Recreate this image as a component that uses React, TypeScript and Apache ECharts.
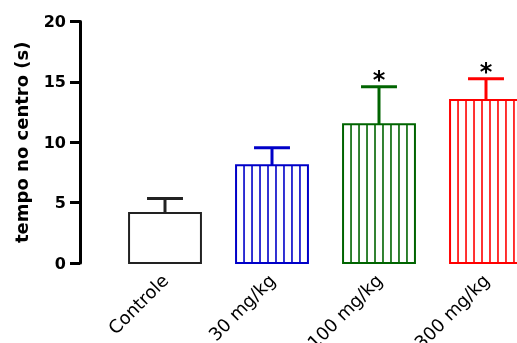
import React, { useEffect, useRef } from 'react';
import * as echarts from 'echarts';

const categories = ['Controle', '30 mg/kg', '100 mg/kg', '300 mg/kg'];
const means = [4.15, 8.1, 11.5, 13.5];
const sems = [1.2, 1.45, 3.1, 1.75];
const significant = [false, false, true, true];
const yTicks = [0, 5, 10, 15, 20];
const yTitle = 'tempo no centro (s)';

const strokeColors = ['#222222', '#0000c8', '#006400', '#ff0000'];
const striped = [false, true, true, true];
const FONT = 'DejaVu Sans';

export default function App() {
  const ref = useRef<HTMLDivElement>(null);
  useEffect(() => {
    const chart = echarts.init(ref.current!, null, { renderer: 'svg' });
    const data = categories.map((_, i) => [i, means[i], means[i] + sems[i], significant[i] ? 1 : 0]);
    chart.setOption({
      animation: false,
      grid: { left: 111.5, right: -22.5, top: 21.5, bottom: 80, containLabel: false, outerBoundsMode: 'none' },
      xAxis: {
        type: 'category',
        data: categories,
        axisLine: { show: false },
        axisTick: { show: false },
        axisLabel: { interval: 0, rotate: 45, margin: 14, fontSize: 18, fontFamily: FONT, color: '#000' },
        splitLine: { show: false },
      },
      yAxis: {
        type: 'value',
        min: yTicks[0],
        max: yTicks[yTicks.length - 1],
        interval: yTicks[1] - yTicks[0],
        offset: 31.5,
        name: yTitle,
        nameLocation: 'middle',
        nameGap: 50,
        nameTextStyle: { fontSize: 18, fontWeight: 'bold', fontFamily: FONT, color: '#000' },
        axisLine: { show: true, lineStyle: { color: '#000', width: 3 } },
        axisTick: { show: true, length: 10, lineStyle: { color: '#000', width: 3 } },
        axisLabel: { fontSize: 16, fontWeight: 'bold', fontFamily: FONT, color: '#000', margin: 14 },
        splitLine: { show: false },
      },
      series: [
        {
          type: 'custom',
          data,
          clip: false,
          renderItem: (params: any, api: any) => {
            const idx = api.value(0);
            const base = api.coord([idx, 0]);
            const top = api.coord([idx, api.value(1)]);
            const err = api.coord([idx, api.value(2)]);
            const band = api.size([1, 0])[0];
            const w = band * 0.672;
            const cx = base[0];
            const x0 = cx - w / 2;
            const color = strokeColors[idx];
            const children: any[] = [];
            children.push({
              type: 'rect',
              shape: { x: x0, y: top[1], width: w, height: base[1] - top[1] },
              style: { fill: '#fff', stroke: color, lineWidth: 2 },
            });
            if (striped[idx]) {
              for (let i = 1; i < 9; i++) {
                const lx = x0 + (w * i) / 9;
                children.push({
                  type: 'line',
                  shape: { x1: lx, y1: top[1], x2: lx, y2: base[1] },
                  style: { stroke: color, lineWidth: 1.6 },
                });
              }
            }
            children.push({
              type: 'line',
              shape: { x1: cx, y1: top[1], x2: cx, y2: err[1] },
              style: { stroke: color, lineWidth: 3 },
            });
            children.push({
              type: 'line',
              shape: { x1: cx - w / 4, y1: err[1], x2: cx + w / 4, y2: err[1] },
              style: { stroke: color, lineWidth: 3 },
            });
            if (api.value(3) === 1) {
              children.push({
                type: 'text',
                x: cx,
                y: err[1] - 7,
                style: {
                  text: '*',
                  fontSize: 24,
                  fontWeight: 'bold',
                  fontFamily: FONT,
                  fill: '#000',
                  align: 'center',
                  verticalAlign: 'middle',
                },
              });
            }
            return { type: 'group', children };
          },
        },
      ],
    });
    return () => chart.dispose();
  }, []);
  return <div ref={ref} style={{ position: 'fixed', left: 0, top: 0, width: 517, height: 343 }} />;
}
